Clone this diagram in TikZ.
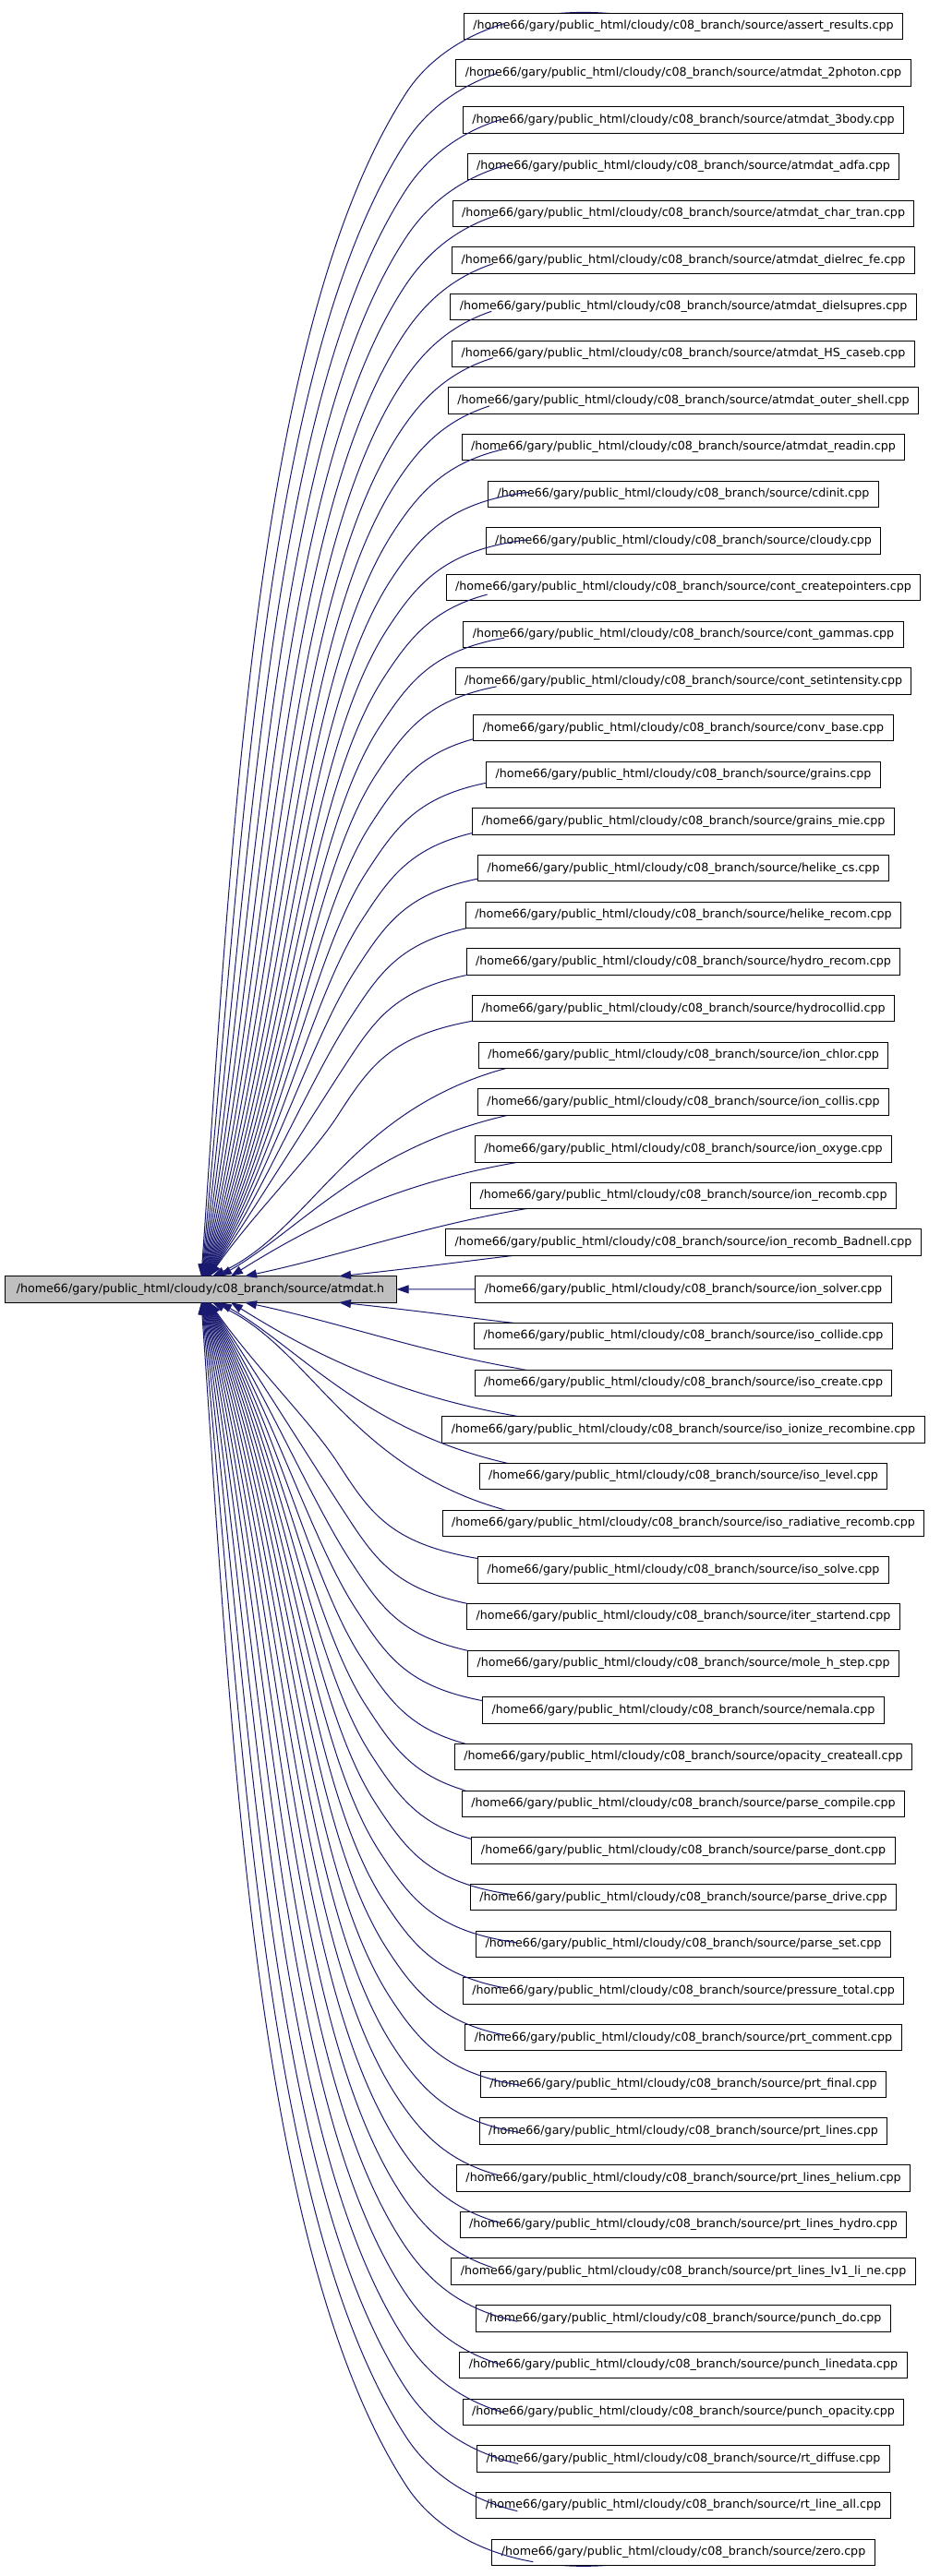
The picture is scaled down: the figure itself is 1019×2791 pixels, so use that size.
\documentclass[tikz,border=0pt]{standalone}
\usepackage{fontspec}
\setmainfont{DejaVu Sans}
\usetikzlibrary{arrows.meta}
\definecolor{edgeblue}{HTML}{191970}
\definecolor{rootfill}{HTML}{BFBFBF}
\newcommand{\FarEdge}[1]{%
  \pgfmathsetmacro\yi{28.5+50.68*#1}
  \pgfmathsetmacro\sg{\yi<1396.9 ? 1 : -1}
  \pgfmathsetmacro\DD{abs(1396.9-\yi)}
  \pgfmathsetmacro\pU{min(1,max(0,(\DD-305)/1063))}
  \pgfmathsetmacro\pW{1-\pU}
  \pgfmathsetmacro\pPhi{55+31*\pU}
  \pgfmathsetmacro\pXt{217+14.2/tan(\pPhi)}
  \pgfmathsetmacro\pXk{440-75*\pW*\pW}
  \pgfmathsetmacro\pVk{\DD-72-45*\pW}
  \pgfmathsetmacro\pLen{veclen(\pXk-\pXt,\pVk-14.2)}
  \pgfmathsetmacro\pA{0.37*\pLen}
  \pgfmathsetmacro\pB{0.23*\pLen}
  \pgfmathsetmacro\pH{80+20*\pW}
  \pgfmathsetmacro\pC{150+150*\pW}
  \pgfmathsetmacro\pD{40*\pU}
  \pgfmathsetmacro\Ty{1396.9-\sg*14.2}
  \pgfmathsetmacro\Ax{\pXt+\pA*cos(\pPhi)}
  \pgfmathsetmacro\Ay{1396.9-\sg*(14.2+\pA*sin(\pPhi))}
  \pgfmathsetmacro\Bx{\pXk-\pB*cos(57)}
  \pgfmathsetmacro\By{1396.9-\sg*(\pVk-\pB*sin(57))}
  \pgfmathsetmacro\Ky{1396.9-\sg*\pVk}
  \pgfmathsetmacro\Qx{\pXk+\pH*cos(57)}
  \pgfmathsetmacro\Qy{1396.9-\sg*(\pVk+\pH*sin(57))}
  \pgfmathsetmacro\Rx{740-\pC}
  \pgfmathsetmacro\Ry{1396.9-\sg*(\DD+\pD)}
  \pgfmathsetmacro\hs{\DD>=630 ? 45 : 0}
  \begin{scope}
    \clip (0,0) rectangle (1019,2791) (n#1.north east) rectangle ([xshift=\hs pt]n#1.south west);
    \draw[edge,tip] (\pXt,\Ty) .. controls (\Ax,\Ay) and (\Bx,\By) .. (\pXk,\Ky) .. controls (\Qx,\Qy) and (\Rx,\Ry) .. (n#1.center);
  \end{scope}
}
\begin{document}
\begin{tikzpicture}[x=1pt,y=-1pt,
  filebox/.style={draw=black, line width=1pt, fill=white, minimum height=28.4pt,
    inner xsep=10pt, inner ysep=0pt, font=\fontsize{12.65}{15}\selectfont},
  rootbox/.style={filebox, fill=rootfill, minimum width=424pt},
  edge/.style={draw=edgeblue, line width=1pt},
  tip/.style={{Triangle[length=13pt,width=9pt]}-}
]
\useasboundingbox (0,0) rectangle (1019,2791);
\node[rootbox] (L) at (217,1396.9) {/home66/gary/public\_html/cloudy/c08\_branch/source/atmdat.h};
\foreach \nm [count=\i from 0] in {assert\_results, atmdat\_2photon, atmdat\_3body, atmdat\_adfa, atmdat\_char\_tran, atmdat\_dielrec\_fe, atmdat\_dielsupres, atmdat\_HS\_caseb, atmdat\_outer\_shell, atmdat\_readin, cdinit, cloudy, cont\_createpointers, cont\_gammas, cont\_setintensity, conv\_base, grains, grains\_mie, helike\_cs, helike\_recom, hydro\_recom, hydrocollid, ion\_chlor, ion\_collis, ion\_oxyge, ion\_recomb, ion\_recomb\_Badnell, ion\_solver, iso\_collide, iso\_create, iso\_ionize\_recombine, iso\_level, iso\_radiative\_recomb, iso\_solve, iter\_startend, mole\_h\_step, nemala, opacity\_createall, parse\_compile, parse\_dont, parse\_drive, parse\_set, pressure\_total, prt\_comment, prt\_final, prt\_lines, prt\_lines\_helium, prt\_lines\_hydro, prt\_lines\_lv1\_li\_ne, punch\_do, punch\_linedata, punch\_opacity, rt\_diffuse, rt\_line\_all, zero} {
  \node[filebox] (n\i) at (740,{28.5+50.68*\i}) {/home66/gary/public\_html/cloudy/c08\_branch/source/\nm.cpp};
}
% far edges
\foreach \i in {0,...,21} {\FarEdge{\i}}
\foreach \i in {33,...,54} {\FarEdge{\i}}
% near edges
\foreach \i/\xt/\ph/\aa/\cc/\dd in {22/230/25/150/340/26, 23/238/30/130/300/15, 24/250/32/120/250/0, 25/265/12/150/200/0, 26/367/6/150/150/-5.7, 28/367/6/150/150/-5.7, 29/265/12/150/200/0, 30/250/32/120/250/0, 31/238/30/130/300/15, 32/230/25/150/340/26} {
  \pgfmathsetmacro\yi{28.5+50.68*\i}
  \pgfmathsetmacro\sg{\yi<1396.9 ? 1 : -1}
  \pgfmathsetmacro\DD{abs(1396.9-\yi)}
  \pgfmathsetmacro\Ty{1396.9-\sg*14.2}
  \pgfmathsetmacro\Ax{\xt+\aa*cos(\ph)}
  \pgfmathsetmacro\Ay{1396.9-\sg*(14.2+\aa*sin(\ph))}
  \pgfmathsetmacro\Rx{740-\cc}
  \pgfmathsetmacro\Ry{1396.9-\sg*(\DD+\dd)}
  \begin{scope}
    \clip (0,0) rectangle (1019,2791) (n\i.north east) rectangle (n\i.south west);
    \draw[edge,tip] (\xt,\Ty) .. controls (\Ax,\Ay) and (\Rx,\Ry) .. (n\i.center);
  \end{scope}
}
\draw[edge,tip] (L.east) -- (n27.west);
\end{tikzpicture}
\end{document}
